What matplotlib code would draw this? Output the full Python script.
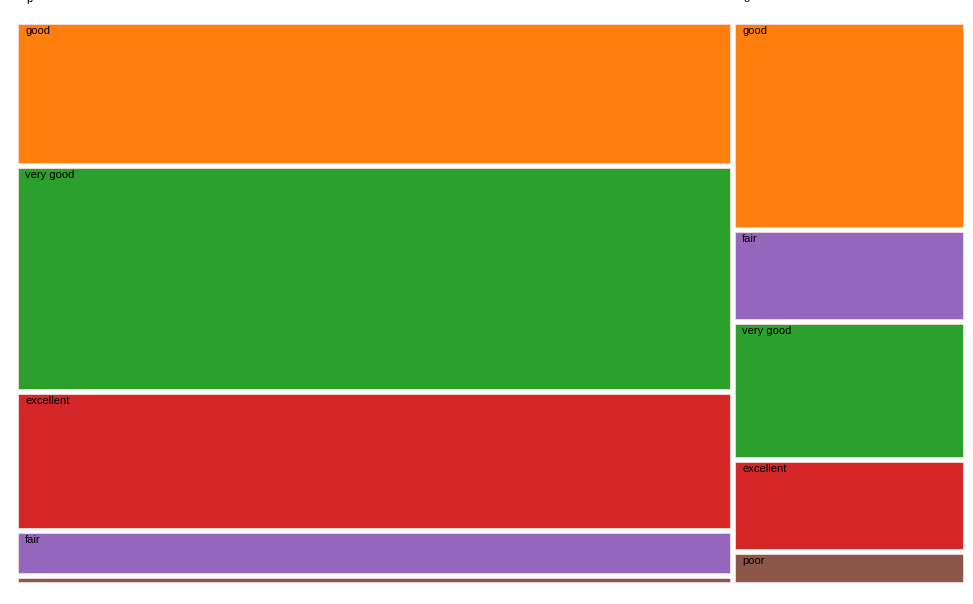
import matplotlib
matplotlib.use("Agg")
import matplotlib.pyplot as plt
from matplotlib.patches import Rectangle

# Data
parents = ["p", "o"]
left_labels = ["good", "very good", "excellent", "fair", "poor"]
left_values = [99.0, 157.4, 95.4, 28.5, 2.8]
right_labels = ["good", "fair", "very good", "excellent", "poor"]
right_values = [46.3, 19.8, 30.3, 19.8, 6.4]

colors = {
    "good": "#ff7f0e",
    "very good": "#2ca02c",
    "excellent": "#d62728",
    "fair": "#9467bd",
    "poor": "#8c564b",
}

W, H = 973, 604
fig = plt.figure(figsize=(W / 100, H / 100), dpi=100)
ax = fig.add_axes([0, 0, 1, 1])
ax.set_xlim(0, W)
ax.set_ylim(H, 0)
ax.axis("off")

x0, x1, y0, y1 = 18, 963, 24, 582
gap = 5
groups = [(left_labels, left_values), (right_labels, right_values)]
totals = [sum(v) for _, v in groups]
avail_w = (x1 - x0) - gap * (len(groups) - 1)
font = dict(family=["Liberation Sans", "DejaVu Sans"], fontsize=8)

cx = x0
for (labels, values), tot, plabel in zip(groups, totals, parents):
    w = avail_w * tot / sum(totals)
    ax.text(cx + 8, 2.5, plabel, ha="left", va="baseline", color="black",
            fontdict=None, **font)
    avail_h = (y1 - y0) - gap * (len(values) - 1)
    cy = y0
    for lab, val in zip(labels, values):
        h = avail_h * val / tot
        ax.add_patch(Rectangle((cx, cy), w, h, facecolor=colors[lab],
                               edgecolor="#f2dede", linewidth=0.6))
        if h > 12:
            ax.text(cx + 7, cy + 2, lab, ha="left", va="top", color="black",
                    **font)
        cy += h + gap
    cx += w + gap

fig.savefig("out.png", dpi=100)
